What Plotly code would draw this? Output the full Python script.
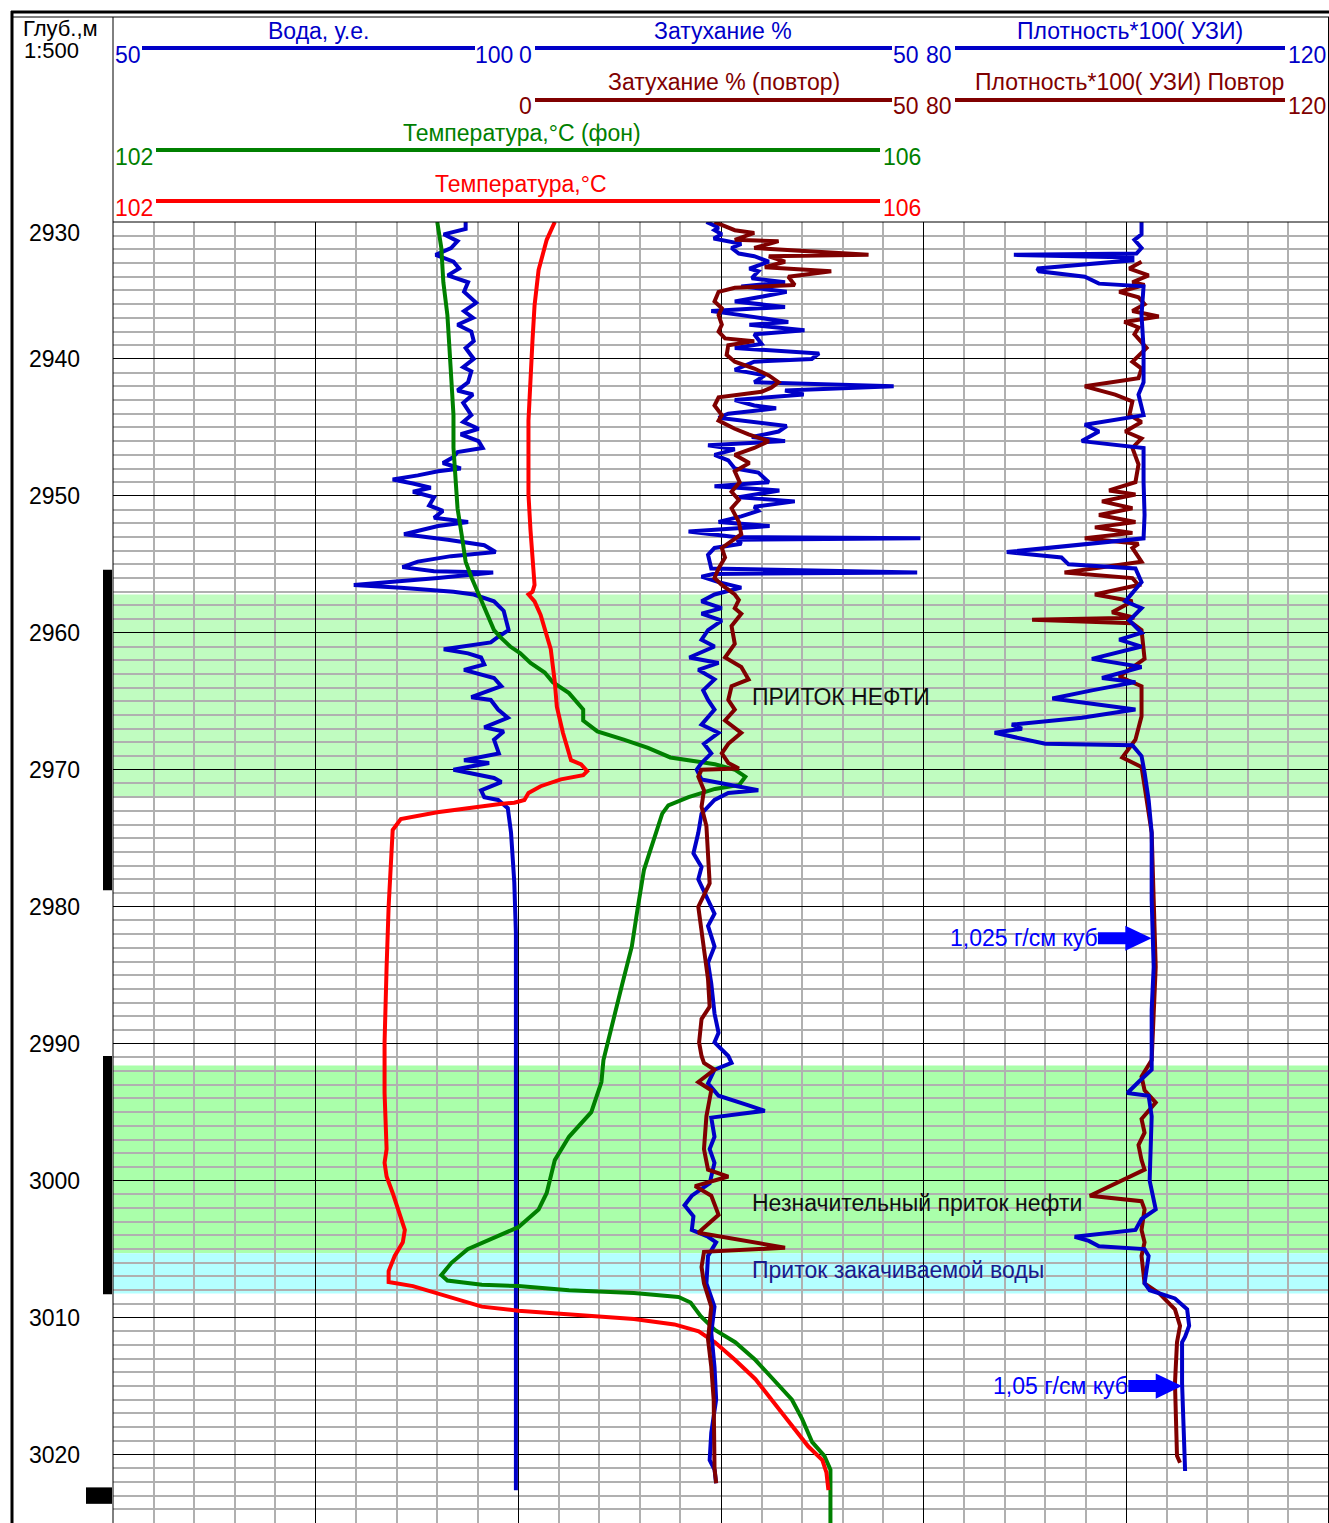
import plotly.graph_objects as go

# ---------------- figure geometry (layout only) ----------------
W, H = 1329, 1523
L, T = 113, 222
PW, PH = W - L, H - T


def PX(px):
    return (px - L) / PW


def PY(py):
    return (H - py) / PH


FONT = "Liberation Sans, Arial, sans-serif"
FS = 23
BLUE = "#0000c8"
DARKRED = "#800000"
GREEN = "#008000"
RED = "#ff0000"

# ---------------- data ----------------
DEPTH_RANGE = [3025, 2930]
DEPTH_TICKS = [2930, 2940, 2950, 2960, 2970, 2980, 2990, 3000, 3010, 3020]

# Вода, у.е. (50..100)
VODA = [(2930.0, 93.5), (2930.5, 93.5), (2930.9, 90.8), (2931.4, 92.5), (2931.9, 91.7), (2932.4, 89.8),
        (2932.9, 92.0), (2933.4, 92.7), (2933.9, 91.3), (2934.4, 93.8), (2935.1, 93.3), (2935.9, 94.8),
        (2936.5, 93.3), (2937.0, 94.4), (2937.5, 92.5), (2938.0, 94.2), (2938.7, 94.5), (2939.2, 93.5),
        (2940.0, 94.5), (2940.6, 93.2), (2940.9, 94.2), (2941.7, 93.8), (2942.3, 92.5), (2942.6, 94.4),
        (2943.2, 93.2), (2944.1, 94.2), (2944.6, 93.2), (2945.1, 95.1), (2945.5, 92.9), (2946.0, 95.1),
        (2946.5, 95.6), (2946.8, 92.5), (2947.2, 91.9), (2947.6, 90.7), (2948.0, 92.9), (2948.2, 90.1),
        (2948.5, 87.6), (2948.8, 84.5), (2949.1, 87.0), (2949.4, 89.2), (2949.7, 87.0), (2950.1, 89.6),
        (2950.7, 89.0), (2951.1, 90.7), (2951.6, 89.6), (2951.9, 93.8), (2952.2, 90.1), (2952.8, 85.9),
        (2953.2, 91.3), (2953.6, 95.8), (2954.1, 97.2), (2954.4, 91.7), (2954.8, 87.6), (2955.2, 85.7),
        (2955.5, 89.6), (2955.6, 96.9), (2956.0, 90.1), (2956.5, 79.7), (2956.7, 85.5), (2957.0, 92.0),
        (2957.2, 94.5), (2957.7, 97.0), (2958.4, 98.2), (2959.8, 98.8), (2960.3, 97.5), (2960.7, 96.6),
        (2961.2, 90.8), (2961.5, 93.8), (2961.8, 95.4), (2962.3, 95.8), (2962.7, 93.3), (2963.3, 97.0),
        (2963.9, 97.9), (2964.7, 94.2), (2964.9, 96.6), (2965.6, 97.5), (2966.2, 98.7), (2966.9, 95.8),
        (2967.2, 98.2), (2967.8, 97.0), (2968.8, 97.6), (2969.3, 93.3), (2969.5, 96.4), (2970.0, 92.0),
        (2970.6, 97.0), (2970.9, 97.9), (2971.5, 95.4), (2972.0, 95.8), (2972.2, 97.5), (2972.8, 98.7),
        (2974.6, 99.1), (2978.2, 99.5), (2981.9, 99.7), (2991.2, 99.7), (3022.6, 99.7)]

# Температура,°C (102..106)
TEMP = [(2930.0, 104.18), (2931.3, 104.14), (2933.5, 104.10), (2936.1, 104.08), (2938.6, 104.07),
        (2941.5, 104.06), (2944.5, 104.05), (2947.4, 104.05), (2949.9, 104.05), (2952.5, 104.06),
        (2954.7, 104.07), (2956.5, 104.08), (2957.0, 104.07), (2957.2, 104.05), (2957.7, 104.08),
        (2958.7, 104.11), (2961.2, 104.16), (2963.6, 104.18), (2965.4, 104.19), (2967.3, 104.22),
        (2969.3, 104.26), (2969.6, 104.31), (2970.1, 104.34), (2970.4, 104.32), (2970.7, 104.21),
        (2971.2, 104.11), (2971.7, 104.05), (2972.2, 104.03), (2972.4, 103.98), (2972.5, 103.91),
        (2973.1, 103.60), (2973.6, 103.42), (2974.4, 103.38), (2977.1, 103.37), (2980.0, 103.36),
        (2984.4, 103.35), (2989.9, 103.34), (2993.6, 103.34), (2997.7, 103.35), (2998.7, 103.34),
        (2999.7, 103.35), (3000.9, 103.38), (3002.3, 103.41), (3003.6, 103.44), (3004.5, 103.43),
        (3005.5, 103.39), (3006.6, 103.36), (3007.4, 103.36), (3007.7, 103.48), (3008.3, 103.62),
        (3009.2, 103.82), (3009.5, 104.00), (3009.7, 104.20), (3010.1, 104.57), (3010.5, 104.77),
        (3011.0, 104.89), (3011.8, 104.97), (3013.1, 105.07), (3014.5, 105.17), (3016.2, 105.26),
        (3018.0, 105.36), (3019.4, 105.43), (3020.4, 105.50), (3021.3, 105.52), (3022.6, 105.53)]

# Температура,°C (фон) (102..106)
TEMP_BG = [(2930.0, 103.60), (2931.9, 103.62), (2934.4, 103.63), (2936.8, 103.65), (2939.2, 103.66),
           (2941.7, 103.67), (2944.1, 103.68), (2946.5, 103.68), (2949.0, 103.69), (2950.9, 103.70),
           (2952.8, 103.72), (2954.8, 103.74), (2956.0, 103.77), (2957.0, 103.80), (2958.1, 103.83),
           (2958.7, 103.85), (2959.8, 103.88), (2960.3, 103.91), (2961.0, 103.96), (2961.5, 104.01),
           (2962.2, 104.06), (2962.9, 104.13), (2963.6, 104.17), (2964.4, 104.25), (2965.6, 104.32),
           (2966.4, 104.32), (2967.2, 104.39), (2967.8, 104.52), (2968.4, 104.64), (2969.1, 104.75),
           (2969.3, 104.84), (2969.6, 104.97), (2970.0, 105.07), (2970.5, 105.12), (2971.1, 105.09),
           (2971.4, 104.97), (2972.0, 104.84), (2972.6, 104.74), (2973.2, 104.71), (2975.1, 104.67),
           (2977.3, 104.62), (2980.0, 104.59), (2982.9, 104.56), (2985.8, 104.51), (2988.8, 104.46),
           (2991.2, 104.42), (2992.8, 104.41), (2995.0, 104.36), (2996.8, 104.25), (2998.5, 104.18),
           (3000.9, 104.14), (3002.1, 104.10), (3003.4, 104.00), (3004.2, 103.88), (3005.0, 103.75),
           (3006.0, 103.67), (3006.9, 103.62), (3007.3, 103.65), (3007.6, 103.82), (3007.7, 104.00),
           (3008.0, 104.25), (3008.2, 104.57), (3008.5, 104.79), (3008.9, 104.85), (3009.9, 104.90),
           (3010.9, 104.97), (3011.8, 105.07), (3013.1, 105.17), (3014.5, 105.26), (3016.0, 105.35),
           (3017.4, 105.40), (3019.1, 105.45), (3020.1, 105.51), (3021.1, 105.54), (3025.0, 105.54)]

# Затухание % (0..50)
ATT = [(2930.0, 23.2), (2930.4, 24.7), (2930.6, 24.2), (2930.9, 25.1), (2931.2, 24.1), (2931.6, 27.5),
       (2931.9, 26.3), (2932.3, 27.2), (2932.5, 29.1), (2932.9, 30.9), (2933.4, 28.5), (2933.6, 29.6),
       (2934.1, 28.8), (2934.4, 32.9), (2934.7, 27.5), (2935.1, 33.1), (2935.5, 29.6), (2935.8, 26.7),
       (2936.2, 32.9), (2936.5, 23.8), (2936.8, 27.5), (2937.3, 33.3), (2937.5, 28.5), (2937.9, 35.3),
       (2938.2, 29.1), (2938.9, 30.0), (2939.2, 26.7), (2939.6, 37.1), (2940.0, 36.2), (2940.2, 29.1),
       (2940.8, 26.7), (2941.2, 30.4), (2941.7, 29.1), (2942.0, 46.3), (2942.3, 32.9), (2942.6, 35.2),
       (2943.0, 26.7), (2943.4, 29.1), (2943.6, 31.8), (2944.0, 25.9), (2944.3, 24.7), (2944.9, 33.1),
       (2945.3, 32.1), (2945.7, 28.8), (2946.0, 32.9), (2946.3, 23.4), (2946.6, 26.7), (2947.0, 24.2),
       (2947.4, 25.9), (2948.0, 26.7), (2948.3, 29.6), (2949.0, 30.9), (2949.3, 24.2), (2949.6, 32.2),
       (2950.1, 27.2), (2950.4, 34.1), (2950.8, 29.1), (2951.1, 29.6), (2951.5, 27.5), (2951.9, 24.7),
       (2952.2, 31.0), (2952.6, 21.0), (2953.0, 26.7), (2953.1, 49.6), (2953.2, 27.0), (2953.5, 27.5),
       (2953.8, 24.2), (2954.3, 23.4), (2954.8, 23.6), (2955.3, 23.8), (2955.6, 49.2), (2955.7, 24.0),
       (2955.9, 22.6), (2956.3, 24.7), (2956.7, 27.5), (2957.2, 24.2), (2957.7, 22.6), (2958.2, 25.1),
       (2958.6, 22.6), (2959.1, 25.1), (2959.8, 23.4), (2960.5, 22.6), (2961.0, 24.2), (2961.8, 21.1),
       (2962.2, 24.7), (2962.7, 22.2), (2963.4, 24.2), (2964.2, 22.8), (2964.9, 23.4), (2965.6, 24.2),
       (2966.7, 22.6), (2967.3, 24.7), (2968.1, 22.9), (2968.8, 23.8), (2969.5, 22.6), (2970.0, 22.0),
       (2970.7, 22.6), (2971.5, 29.6), (2971.7, 25.9), (2972.2, 24.2), (2973.2, 22.6), (2974.6, 22.2),
       (2976.1, 21.6), (2977.1, 22.6), (2978.0, 22.2), (2979.5, 23.4), (2980.5, 24.2), (2981.4, 23.4),
       (2982.9, 24.2), (2984.1, 23.4), (2985.6, 23.8), (2987.8, 24.2), (2989.2, 24.7), (2989.9, 24.2),
       (2990.9, 25.9), (2991.4, 26.3), (2991.9, 24.2), (2992.9, 23.4), (2993.8, 24.7), (2994.5, 28.4),
       (2994.9, 30.4), (2995.4, 23.8), (2996.8, 24.2), (2997.7, 23.6), (2998.7, 24.2), (3000.2, 23.6),
       (3001.1, 21.4), (3001.8, 20.5), (3002.6, 21.6), (3003.6, 21.4), (3004.1, 23.4), (3004.5, 24.4),
       (3005.5, 23.4), (3007.5, 23.2), (3009.2, 24.2), (3011.1, 23.8), (3013.6, 24.2), (3016.0, 24.4),
       (3018.4, 23.8), (3020.4, 23.6), (3021.1, 24.2), (3022.1, 24.4)]

# Затухание % (повтор) (0..50)
ATT_REP = [(2930.0, 24.2), (2930.6, 26.7), (2930.8, 29.1), (2931.3, 26.7), (2931.4, 32.1), (2931.9, 29.1),
           (2932.4, 43.2), (2932.5, 30.9), (2932.9, 32.9), (2933.3, 30.4), (2933.6, 38.6), (2934.0, 33.3),
           (2934.6, 34.1), (2934.8, 26.7), (2935.1, 24.7), (2935.8, 24.2), (2936.3, 25.1), (2936.8, 24.7),
           (2937.5, 25.1), (2938.0, 24.7), (2938.5, 25.5), (2938.7, 29.1), (2939.0, 25.9), (2939.7, 25.7),
           (2940.2, 26.7), (2940.7, 29.1), (2941.2, 30.9), (2941.7, 32.1), (2942.1, 31.2), (2942.4, 30.0),
           (2942.8, 24.7), (2943.4, 24.2), (2944.1, 25.1), (2944.5, 24.7), (2945.1, 26.7), (2945.5, 28.4),
           (2946.0, 30.9), (2946.5, 29.1), (2947.0, 26.7), (2947.6, 28.5), (2948.2, 26.7), (2949.0, 27.3),
           (2949.7, 26.3), (2950.3, 27.2), (2950.9, 26.3), (2951.9, 27.2), (2952.8, 27.5), (2953.3, 26.3),
           (2953.8, 25.1), (2954.5, 25.5), (2955.3, 24.7), (2956.0, 24.2), (2956.5, 25.1), (2957.2, 26.7),
           (2957.6, 27.2), (2958.2, 26.7), (2958.6, 27.5), (2959.5, 26.3), (2960.8, 26.7), (2961.8, 25.5),
           (2962.5, 27.5), (2963.4, 28.4), (2963.9, 26.3), (2964.9, 25.9), (2965.6, 26.7), (2966.4, 25.5),
           (2967.3, 27.5), (2968.1, 25.9), (2968.8, 25.1), (2969.5, 25.9), (2969.9, 27.2), (2970.0, 22.6),
           (2970.5, 22.2), (2971.5, 22.9), (2972.7, 22.6), (2974.1, 23.2), (2976.6, 23.4), (2978.3, 23.6),
           (2980.0, 22.2), (2981.9, 22.6), (2983.4, 22.9), (2985.3, 23.4), (2987.3, 23.6), (2988.2, 22.6),
           (2989.9, 22.3), (2990.9, 22.6), (2991.4, 22.9), (2991.9, 24.2), (2992.8, 22.2), (2993.4, 23.8),
           (2995.3, 23.2), (2997.7, 22.9), (2999.2, 23.4), (2999.7, 25.9), (3000.4, 21.8), (3001.1, 23.8),
           (3002.5, 24.7), (3003.8, 22.2), (3004.9, 32.9), (3005.2, 22.9), (3006.3, 22.6), (3007.5, 22.9),
           (3009.2, 23.8), (3011.6, 23.4), (3013.6, 23.8), (3016.0, 24.1), (3021.0, 24.2), (3022.1, 24.4)]

# Плотность*100( УЗИ) (80..120)
DENS = [(2930.0, 101.5), (2930.9, 101.5), (2931.3, 100.8), (2931.9, 101.5), (2932.3, 101.0), (2932.4, 88.9),
        (2932.6, 100.6), (2932.8, 100.6), (2933.4, 91.2), (2933.6, 91.4), (2934.0, 95.9), (2934.5, 97.3),
        (2934.7, 101.7), (2936.8, 101.5), (2939.2, 101.7), (2941.7, 101.7), (2942.6, 101.2), (2944.1, 101.7),
        (2944.8, 95.9), (2945.3, 97.3), (2946.0, 95.6), (2946.3, 99.3), (2946.5, 101.7), (2949.0, 101.7),
        (2951.4, 101.8), (2953.1, 101.7), (2953.6, 95.3), (2954.1, 88.2), (2954.5, 93.6), (2955.0, 94.3),
        (2955.3, 100.9), (2956.3, 101.5), (2957.7, 99.9), (2958.2, 101.5), (2959.1, 100.3), (2960.0, 101.5),
        (2960.5, 99.3), (2961.0, 101.5), (2961.9, 96.6), (2962.5, 101.5), (2963.3, 97.6), (2963.6, 100.9),
        (2964.2, 96.6), (2964.8, 92.7), (2965.6, 100.9), (2966.2, 95.6), (2966.7, 88.7), (2967.0, 89.7),
        (2967.3, 87.0), (2968.1, 92.0), (2968.2, 100.6), (2969.0, 101.5), (2970.2, 101.8), (2972.2, 102.2),
        (2974.6, 102.5), (2979.5, 102.5), (2984.4, 102.7), (2987.5, 102.5), (2991.2, 102.5), (2991.9, 102.5),
        (2992.8, 101.2), (2993.6, 100.1), (2993.8, 102.2), (2995.3, 102.5), (3000.0, 102.3), (3000.7, 102.5),
        (3002.1, 102.9), (3002.8, 101.5), (3003.6, 100.9), (3004.1, 94.9), (3004.4, 96.3), (3004.8, 97.3),
        (3005.0, 101.8), (3005.5, 102.2), (3007.5, 101.8), (3008.0, 102.3), (3008.6, 104.8), (3009.4, 106.0),
        (3010.6, 106.2), (3011.4, 105.8), (3011.8, 105.5), (3014.8, 105.5), (3019.6, 105.7), (3021.2, 105.8)]

# Плотность*100( УЗИ) Повтор (80..120)
DENS_REP = [(2932.9, 101.5), (2933.4, 100.3), (2933.9, 102.2), (2934.4, 100.6), (2934.6, 101.8), (2935.1, 99.3),
            (2935.5, 101.2), (2936.0, 101.8), (2936.5, 100.6), (2936.9, 103.2), (2937.3, 99.8), (2937.7, 101.2),
            (2938.2, 100.8), (2939.2, 102.0), (2940.2, 100.6), (2940.7, 101.5), (2941.4, 101.2), (2942.0, 95.9),
            (2942.6, 98.9), (2943.1, 100.6), (2944.1, 100.3), (2944.6, 101.5), (2945.3, 99.9), (2945.8, 101.5),
            (2946.5, 100.6), (2947.7, 101.2), (2949.0, 100.9), (2949.6, 98.3), (2949.9, 100.9), (2950.4, 97.6),
            (2950.9, 100.6), (2951.4, 97.3), (2951.9, 100.9), (2952.3, 96.9), (2952.7, 100.6), (2953.1, 95.9),
            (2953.5, 101.2), (2953.8, 100.6), (2954.8, 101.5), (2955.6, 93.9), (2956.0, 100.6), (2956.5, 101.2),
            (2957.2, 96.9), (2957.7, 100.6), (2958.5, 98.6), (2958.9, 100.8), (2959.05, 90.7), (2959.3, 100.6),
            (2959.8, 101.5), (2961.9, 101.8), (2963.2, 99.3), (2963.9, 101.5), (2966.1, 101.5), (2967.8, 100.9),
            (2969.1, 99.6), (2969.8, 101.5), (2971.2, 101.8), (2974.6, 102.5), (2979.5, 102.7), (2984.4, 102.9),
            (2991.2, 102.5), (2992.4, 101.5), (2993.4, 101.8), (2994.3, 102.9), (2995.5, 101.5), (2996.5, 101.8),
            (2997.4, 101.2), (2998.5, 101.5), (2999.2, 101.8), (3001.1, 96.4), (3001.5, 101.5), (3002.1, 101.8),
            (3003.6, 101.5), (3004.5, 101.8), (3005.5, 101.5), (3007.5, 101.8), (3008.2, 103.2), (3009.4, 104.8),
            (3010.6, 105.3), (3011.8, 105.0), (3014.8, 104.8), (3020.1, 105.0), (3020.6, 105.3)]

# shaded intervals (top, bottom, color)
ZONES = [(2957.2, 2972.0, "#c0fcc0"), (2991.6, 3005.3, "#aaffaa"), (3005.3, 3008.25, "#b4ffff")]
# perforation intervals
PERF = [(2955.4, 2978.8), (2990.9, 3008.3)]
PERF_MARK = (3022.4, 3023.6)

# zone labels (depth, text, color)
ZONE_LABELS = [(2964.7, "ПРИТОК НЕФТИ", "#101010"),
               (3001.6, "Незначительный приток нефти", "#101010"),
               (3006.5, "Приток закачиваемой воды", "#1a1a8c")]
# density markers (depth, density value, text)
DENS_MARKS = [(2982.3, 102.5, "1,025 г/см куб"), (3015.0, 105.5, "1,05 г/см куб")]

# ---------------- traces ----------------
fig = go.Figure()
fig.add_trace(go.Scatter(x=[], y=[], xaxis="x", yaxis="y", showlegend=False))


def add_curve(data, axis, color, name):
    fig.add_trace(go.Scatter(
        x=[p[1] for p in data], y=[p[0] for p in data], xaxis=axis, yaxis="y",
        mode="lines", line=dict(color=color, width=4), name=name,
        hoverinfo="skip", showlegend=False))


add_curve(VODA, "x2", BLUE, "Вода, у.е.")
add_curve(TEMP_BG, "x3", GREEN, "Температура,°C (фон)")
add_curve(TEMP, "x3", RED, "Температура,°C")
add_curve(ATT, "x4", BLUE, "Затухание %")
add_curve(ATT_REP, "x4", DARKRED, "Затухание % (повтор)")
add_curve(DENS_REP, "x5", DARKRED, "Плотность*100( УЗИ) Повтор")
add_curve(DENS, "x5", BLUE, "Плотность*100( УЗИ)")

# ---------------- shapes ----------------
shapes = []
for top, bot, col in ZONES:
    shapes.append(dict(type="rect", xref="paper", yref="y", x0=0, x1=1, y0=top, y1=bot,
                       fillcolor=col, line=dict(width=0), layer="below"))
for top, bot in PERF:
    shapes.append(dict(type="rect", xref="paper", yref="y", x0=PX(103), x1=PX(112), y0=top, y1=bot,
                       fillcolor="black", line=dict(width=0)))
shapes.append(dict(type="rect", xref="paper", yref="y", x0=PX(86), x1=PX(112),
                   y0=PERF_MARK[0], y1=PERF_MARK[1], fillcolor="black", line=dict(width=0)))


def hline(x0, x1, y, color="black", width=1):
    shapes.append(dict(type="line", xref="paper", yref="paper", x0=PX(x0), x1=PX(x1),
                       y0=PY(y), y1=PY(y), line=dict(color=color, width=width)))


def vline(x, y0, y1, color="black", width=1):
    shapes.append(dict(type="line", xref="paper", yref="paper", x0=PX(x), x1=PX(x),
                       y0=PY(y0), y1=PY(y1), line=dict(color=color, width=width)))


# frame
hline(11, W, 12, width=3)
hline(12, W, 17, width=1)
vline(12, 11, H, width=3)
vline(L, 17, H, width=1)
hline(L, W, T, width=1)
vline(W - 0.5, 17, H, width=1)

# header scale lines
hline(142, 475, 48, BLUE, 4)
hline(535, 892, 48, BLUE, 4)
hline(955, 1285, 48, BLUE, 4)
hline(535, 892, 100, DARKRED, 4)
hline(955, 1285, 100, DARKRED, 4)
hline(156, 880, 150, GREEN, 4)
hline(156, 880, 201, RED, 4)

# arrows for density markers (in density-axis units, pointing right)
for depth, val, _ in DENS_MARKS:
    head_len, total_len = 2.6, 5.3
    bh, hh = 0.44, 0.92
    x_tip, x_neck, x_tail = val, val - head_len, val - total_len
    path = (f"M {x_tail},{depth - bh} L {x_neck},{depth - bh} L {x_neck},{depth - hh} "
            f"L {x_tip},{depth} L {x_neck},{depth + hh} L {x_neck},{depth + bh} "
            f"L {x_tail},{depth + bh} Z")
    shapes.append(dict(type="path", xref="x5", yref="y", path=path,
                       fillcolor="#0000ff", line=dict(width=0)))

# ---------------- annotations ----------------
ann = []


def text(x_px, y_px, s, color="black", size=FS, xanchor="center"):
    ann.append(dict(xref="paper", yref="paper", x=PX(x_px), y=PY(y_px), text=s, showarrow=False,
                    xanchor=xanchor, yanchor="middle", borderpad=0,
                    font=dict(family=FONT, size=size, color=color)))


text(22, 28, "Глуб.,м", xanchor="left", size=22)
text(23, 50, "1:500", xanchor="left", size=22)

# row 1
text(318, 31, "Вода, у.е.", BLUE)
text(723, 31, "Затухание %", BLUE)
text(1130, 31, "Плотность*100( УЗИ)", BLUE)
text(114, 55, "50", BLUE, xanchor="left")
text(514, 55, "100", BLUE, xanchor="right")
text(518, 55, "0", BLUE, xanchor="left")
text(892, 55, "50", BLUE, xanchor="left")
text(953, 55, "80", BLUE, xanchor="right")
text(1287, 55, "120", BLUE, xanchor="left")
# row 2
text(724, 82, "Затухание % (повтор)", DARKRED)
text(1129, 82, "Плотность*100( УЗИ) Повтор", DARKRED)
text(533, 106, "0", DARKRED, xanchor="right")
text(892, 106, "50", DARKRED, xanchor="left")
text(953, 106, "80", DARKRED, xanchor="right")
text(1287, 106, "120", DARKRED, xanchor="left")
# row 3
text(522, 133, "Температура,°C (фон)", GREEN)
text(114, 157, "102", GREEN, xanchor="left")
text(882, 157, "106", GREEN, xanchor="left")
# row 4
text(521, 184, "Температура,°C", RED)
text(114, 208, "102", RED, xanchor="left")
text(882, 208, "106", RED, xanchor="left")

# depth labels
for d in DEPTH_TICKS:
    ann.append(dict(xref="paper", yref="y", x=PX(54), y=d, text=str(d), showarrow=False,
                    xanchor="center", yanchor="middle", yshift=-11 if d == DEPTH_TICKS[0] else 0,
                    font=dict(family=FONT, size=FS, color="black")))

for depth, s, col in ZONE_LABELS:
    ann.append(dict(xref="paper", yref="y", x=PX(750), y=depth, text=s, showarrow=False,
                    xanchor="left", yanchor="middle", font=dict(family=FONT, size=FS, color=col)))

for depth, val, s in DENS_MARKS:
    ann.append(dict(xref="x5", yref="y", x=val - 5.3, y=depth, text=s, showarrow=False,
                    xanchor="right", yanchor="middle", xshift=2,
                    font=dict(family=FONT, size=FS, color="#0000ff")))

# ---------------- layout ----------------
grid_minor = dict(dtick=1, showgrid=True, gridcolor="#b0b0b0", gridwidth=1.5, ticks="")
fig.update_layout(
    width=W, height=H,
    margin=dict(l=L, r=0, t=T, b=0, pad=0),
    paper_bgcolor="white", plot_bgcolor="white",
    font=dict(family=FONT, size=FS, color="black"),
    showlegend=False,
    xaxis=dict(range=[0, 30], domain=[0, 1], dtick=5, tick0=0, showgrid=True, gridcolor="black",
               gridwidth=1, minor=grid_minor, showticklabels=False, ticks="", zeroline=False,
               showline=False, fixedrange=True),
    yaxis=dict(range=DEPTH_RANGE, domain=[0, 1], dtick=10, tick0=2930, showgrid=True, gridcolor="black",
               gridwidth=1, minor=grid_minor, showticklabels=False, ticks="", zeroline=False,
               showline=False, fixedrange=True),
    xaxis2=dict(overlaying="x", range=[50, 200], visible=False, fixedrange=True),
    xaxis3=dict(overlaying="x", range=[102, 108], visible=False, fixedrange=True),
    xaxis4=dict(overlaying="x", range=[-50, 100], visible=False, fixedrange=True),
    xaxis5=dict(overlaying="x", range=[0, 120], visible=False, fixedrange=True),
    shapes=shapes,
    annotations=ann,
)

fig.write_html("out.html", config={"displayModeBar": False},
               post_script="document.body.style.margin='0';document.body.style.overflow='hidden';")
